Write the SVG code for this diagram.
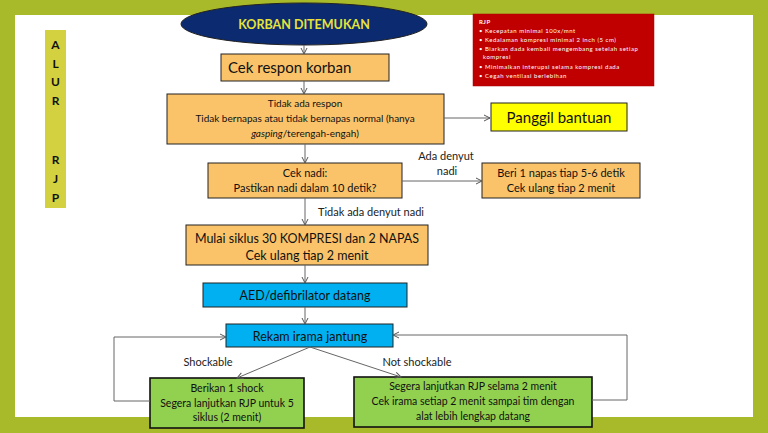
<svg xmlns="http://www.w3.org/2000/svg" width="768" height="433" viewBox="0 0 768 433">
<style>
text{font-family:Lato,"Open Sans","Liberation Sans",sans-serif;fill:#111}
.c{text-anchor:middle}
.box{stroke:#222;stroke-width:1}
.orange{fill:#FAC36A}
.blue{fill:#00B0F0}
.green{fill:#92D050;stroke:#111;stroke-width:1.6}
.conn{fill:none;stroke:#666;stroke-width:1}
.lbl{font-size:11px;fill:#222}
.rjp{fill:#fff;font-size:6px;letter-spacing:0.5px}
</style>
<defs>
<marker id="arr" markerWidth="8" markerHeight="8" refX="7" refY="4" orient="auto" markerUnits="userSpaceOnUse">
<path d="M1,1 L7,4 L1,7" fill="none" stroke="#555" stroke-width="1"/>
</marker>
</defs>
<rect x="0" y="0" width="768" height="433" fill="#A8B92A"/>
<rect x="15" y="15" width="738" height="402" fill="#fff"/>

<g id="sidebar">
<rect x="45" y="30" width="21" height="178" fill="#D3D13F"/>
<g font-weight="bold" font-size="12" class="c">
<text x="55.5" y="49" class="c">A</text>
<text x="55.5" y="68" class="c">L</text>
<text x="55.5" y="86" class="c">U</text>
<text x="55.5" y="105" class="c">R</text>
<text x="55.5" y="164" class="c">R</text>
<text x="55.5" y="183" class="c">J</text>
<text x="55.5" y="202" class="c">P</text>
</g>
</g>

<g id="rjp-info">
<rect x="473" y="14" width="181" height="72" fill="#C00000" stroke="#a00" stroke-width="0.5"/>
<text x="479" y="24" class="rjp" font-size="7" font-weight="bold">RJP</text>
<text x="479" y="33" class="rjp">• Kecepatan  minimal 100x/mnt</text>
<text x="479" y="42" class="rjp">• Kedalaman kompresi minimal 2 inch (5 cm)</text>
<text x="479" y="51" class="rjp">• Biarkan dada kembali mengembang setelah setiap</text>
<text x="483" y="59" class="rjp">kompresi</text>
<text x="479" y="69" class="rjp">• Minimalkan interupsi selama kompresi dada</text>
<text x="479" y="78" class="rjp">• Cegah ventilasi berlebihan</text>
</g>

<g id="korban">
<ellipse cx="304" cy="24" rx="123" ry="21" fill="#0B2A6F" stroke="#222" stroke-width="1"/>
<text x="304" y="29" class="c" font-size="12.5" font-weight="bold" style="fill:#E6E23A">KORBAN DITEMUKAN</text>
</g>

<g id="cek-respon">
<rect x="221" y="54" width="168" height="27" class="box orange"/>
<text x="228" y="73" font-size="15">Cek respon korban</text>
</g>

<g id="tidak-respon">
<rect x="167" y="94" width="277" height="50" class="box orange"/>
<text x="305" y="107" class="c" font-size="10">Tidak ada respon</text>
<text x="305" y="122" class="c" font-size="10">Tidak bernapas atau tidak bernapas normal (hanya</text>
<text x="305" y="137" class="c" font-size="10"><tspan font-style="italic">gasping</tspan>/terengah-engah)</text>
</g>

<g id="panggil">
<rect x="491" y="103" width="136" height="28" fill="#FFFF00" stroke="#222" stroke-width="1"/>
<text x="559" y="123" class="c" font-size="15">Panggil bantuan</text>
</g>

<g id="cek-nadi">
<rect x="208" y="163" width="194" height="35" class="box orange"/>
<text x="305" y="177" class="c" font-size="11">Cek nadi:</text>
<text x="305" y="192" class="c" font-size="11">Pastikan nadi dalam 10 detik?</text>
</g>

<g id="beri-napas">
<rect x="482" y="163" width="158" height="35" class="box orange"/>
<text x="561" y="177" class="c" font-size="11">Beri 1 napas tiap 5-6 detik</text>
<text x="561" y="192" class="c" font-size="11">Cek ulang tiap 2 menit</text>
</g>

<g id="mulai-siklus">
<rect x="186" y="225" width="242" height="40" class="box orange"/>
<text x="307" y="243" class="c" font-size="12.5">Mulai siklus 30 KOMPRESI dan 2 NAPAS</text>
<text x="307" y="260" class="c" font-size="12.5">Cek ulang tiap 2 menit</text>
</g>

<g id="aed">
<rect x="203" y="283" width="204" height="24" class="box blue"/>
<text x="305" y="300" class="c" font-size="12.5">AED/defibrilator datang</text>
</g>

<g id="rekam">
<rect x="226" y="324" width="167" height="23" class="box blue"/>
<text x="310" y="341" class="c" font-size="12.5">Rekam irama jantung</text>
</g>

<g id="shock">
<rect x="150" y="378" width="154" height="50" class="green"/>
<text x="227" y="392" class="c" font-size="10.5">Berikan 1 shock</text>
<text x="227" y="407" class="c" font-size="10.5">Segera lanjutkan RJP untuk 5</text>
<text x="227" y="421" class="c" font-size="10.5">siklus (2 menit)</text>
</g>

<g id="not-shock">
<rect x="354" y="377" width="238" height="50" class="green"/>
<text x="473" y="390" class="c" font-size="10.5">Segera lanjutkan RJP selama 2 menit</text>
<text x="473" y="405" class="c" font-size="10.5">Cek irama setiap 2 menit sampai tim dengan</text>
<text x="473" y="420" class="c" font-size="10.5">alat lebih lengkap datang</text>
</g>

<g id="connectors">
<line x1="304" y1="45" x2="304" y2="54" class="conn" marker-end="url(#arr)"/>
<line x1="304" y1="81" x2="304" y2="94" class="conn" marker-end="url(#arr)"/>
<line x1="444" y1="118" x2="490" y2="118" class="conn" marker-end="url(#arr)"/>
<line x1="305" y1="144" x2="305" y2="163" class="conn" marker-end="url(#arr)"/>
<line x1="402" y1="181" x2="482" y2="181" class="conn" marker-end="url(#arr)"/>
<line x1="305" y1="198" x2="305" y2="225" class="conn" marker-end="url(#arr)"/>
<line x1="305" y1="265" x2="305" y2="283" class="conn" marker-end="url(#arr)"/>
<line x1="305" y1="307" x2="305" y2="324" class="conn" marker-end="url(#arr)"/>
<line x1="310" y1="347" x2="237" y2="378" class="conn" marker-end="url(#arr)"/>
<line x1="310" y1="347" x2="401" y2="377" class="conn" marker-end="url(#arr)"/>
<polyline points="150,401 114,401 114,337 226,337" class="conn" marker-end="url(#arr)"/>
<polyline points="592,400 627,400 627,335 393,335" class="conn" marker-end="url(#arr)"/>
<text x="446" y="160" class="c lbl">Ada denyut</text>
<text x="447" y="175" class="c lbl">nadi</text>
<text x="318" y="216" class="lbl">Tidak ada denyut nadi</text>
<text x="208" y="366" class="c lbl">Shockable</text>
<text x="417" y="366" class="c lbl">Not shockable</text>
</g>
</svg>
